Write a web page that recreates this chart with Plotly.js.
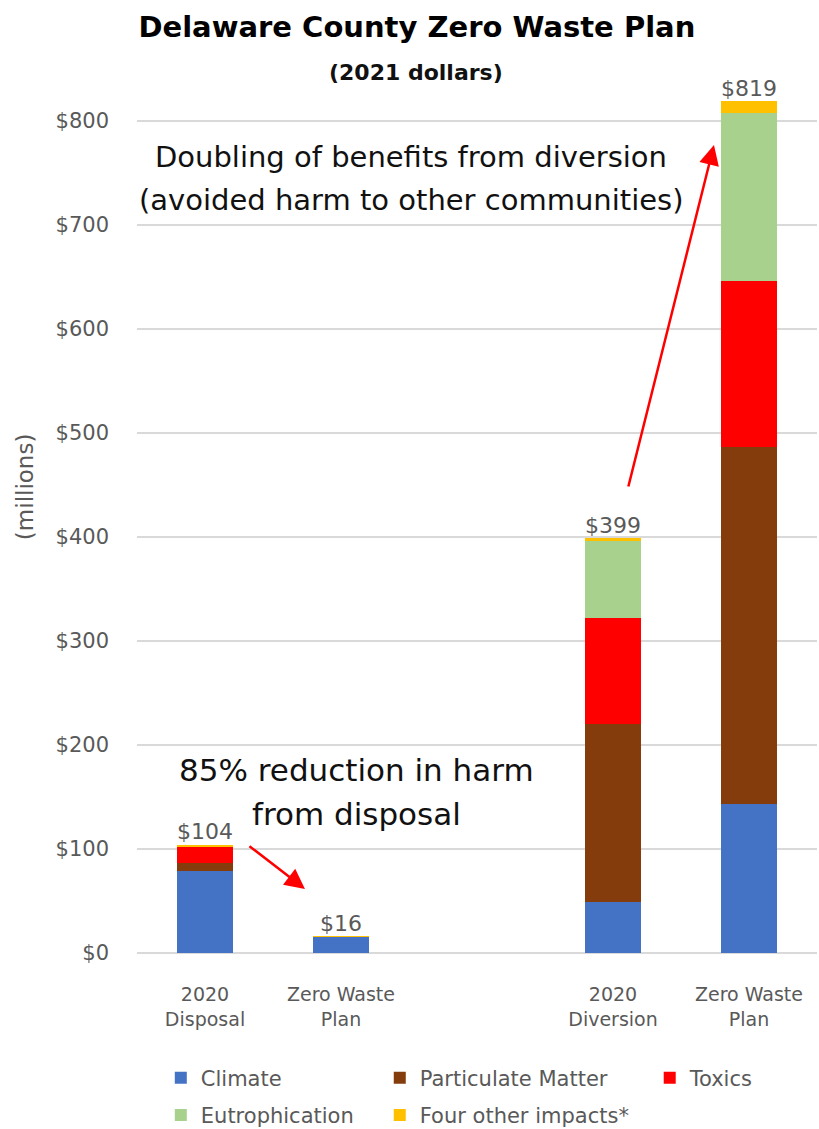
<!DOCTYPE html>
<html>
<head>
<meta charset="utf-8">
<script src="https://cdn.plot.ly/plotly-3.0.1.min.js"></script>
<style>html,body{margin:0;padding:0;background:#fff;}</style>
</head>
<body>
<div id="chart" style="width:819px;height:1129px;"></div>
<script>
// ---- data ----
const categoryIds = ["disp2020", "zwpDisposal", "gap", "div2020", "zwpDiversion"];
const tickLabels = ["2020<br>Disposal", "Zero Waste<br>Plan", "", "2020<br>Diversion", "Zero Waste<br>Plan"];
const climate = [79, 15.3, null, 49, 143];
const particulate = [7.5, 0, null, 171, 344];
const toxics = [15.5, 0, null, 102, 159];
const eutrophication = [0, 0, null, 74, 162];
const otherImpacts = [2, 0.7, null, 3, 11];
const totals = [104, 16, null, 399, 819];
const seriesNames = ["Climate", "Particulate Matter", "Toxics", "Eutrophication", "Four other impacts*"];
const seriesColors = ["#4472C4", "#843C0C", "#FF0000", "#A9D18E", "#FFC000"];
const seriesLegends = ["legend", "legend2", "legend3", "legend", "legend2"];
const yTicks = [0, 100, 200, 300, 400, 500, 600, 700, 800];

const gray = "#595959";
const font = "DejaVu Sans, Open Sans, sans-serif";

const seriesValues = [climate, particulate, toxics, eutrophication, otherImpacts];
const traces = seriesValues.map((vals, i) => ({
  type: "bar",
  name: seriesNames[i],
  x: categoryIds,
  y: vals,
  marker: {color: seriesColors[i], line: {width: 0}},
  legend: seriesLegends[i],
  legendgroup: seriesNames[i],
  hoverinfo: "name+y"
}));

traces.push({
  type: "scatter",
  mode: "text",
  x: categoryIds,
  y: totals,
  text: totals.map(v => v == null ? "" : "$" + v),
  textposition: "top center",
  textfont: {family: font, size: 22, color: gray},
  showlegend: false,
  hoverinfo: "skip",
  cliponaxis: false
});

const legendCommon = {
  orientation: "v",
  traceorder: "grouped",
  tracegroupgap: 7,
  font: {family: font, size: 21, color: gray},
  bgcolor: "rgba(0,0,0,0)",
  xanchor: "left",
  yanchor: "top",
  itemclick: false,
  itemdoubleclick: false
};

function note(text, x, y, size, bold) {
  return {text: bold ? "<b>" + text + "</b>" : text, xref: "paper", yref: "paper", x: x, y: y,
    xanchor: "center", yanchor: "middle", showarrow: false,
    font: {family: font, size: size, color: "#111111"}};
}

const layout = {
  width: 819,
  height: 1129,
  margin: {l: 137, r: 2, t: 69, b: 176, autoexpand: false},
  paper_bgcolor: "#ffffff",
  plot_bgcolor: "#ffffff",
  barmode: "stack",
  bargap: 0.59,
  title: {
    text: "<b>Delaware County Zero Waste Plan</b>",
    font: {family: font, size: 29, color: "#000000"},
    xref: "container", x: 0.509, xanchor: "center",
    yref: "container", y: 0.976, yanchor: "middle"
  },
  xaxis: {
    type: "category",
    categoryorder: "array",
    categoryarray: categoryIds,
    tickvals: categoryIds,
    ticktext: tickLabels,
    tickfont: {family: font, size: 19, color: gray},
    ticklabelstandoff: 28,
    showgrid: false,
    zeroline: false,
    showline: false,
    ticks: ""
  },
  yaxis: {
    range: [0, 850],
    tickvals: yTicks,
    ticktext: yTicks.map(v => "$" + v),
    tickfont: {family: font, size: 21, color: gray},
    gridcolor: "#D9D9D9",
    gridwidth: 1.5,
    zeroline: true,
    zerolinecolor: "#D9D9D9",
    zerolinewidth: 1.5,
    showline: false,
    ticks: "",
    ticklabelstandoff: 27
  },
  legend: Object.assign({}, legendCommon, {x: 0.035, y: -0.1182}),
  legend2: Object.assign({}, legendCommon, {x: 0.357, y: -0.1182}),
  legend3: Object.assign({}, legendCommon, {x: 0.754, y: -0.1182}),
  annotations: [
    {text: "(millions)", xref: "paper", yref: "paper", x: -0.1647, y: 0.527, textangle: -90,
     xanchor: "center", yanchor: "middle", showarrow: false,
     font: {family: font, size: 23, color: gray}},
    note("(2021 dollars)", 0.41, 0.9955, 22, true),
    note("Doubling of benefits from diversion", 0.403, 0.9005, 29, false),
    note("(avoided harm to other communities)", 0.403, 0.8518, 29, false),
    note("85% reduction in harm", 0.3235, 0.207, 31, false),
    note("from disposal", 0.3235, 0.157, 31, false),
    {text: "", xref: "paper", yref: "paper", x: 0.247, y: 0.0724, ax: -57, ay: -44,
     showarrow: true, arrowhead: 2, arrowsize: 1.6, arrowwidth: 2.5, arrowcolor: "#FF0000"},
    {text: "", xref: "paper", yref: "paper", x: 0.8485, y: 0.914, ax: -86, ay: 343,
     showarrow: true, arrowhead: 2, arrowsize: 1.6, arrowwidth: 2.5, arrowcolor: "#FF0000"}
  ],
  showlegend: true
};

Plotly.newPlot("chart", traces, layout, {displayModeBar: false, staticPlot: true});
</script>
</body>
</html>
